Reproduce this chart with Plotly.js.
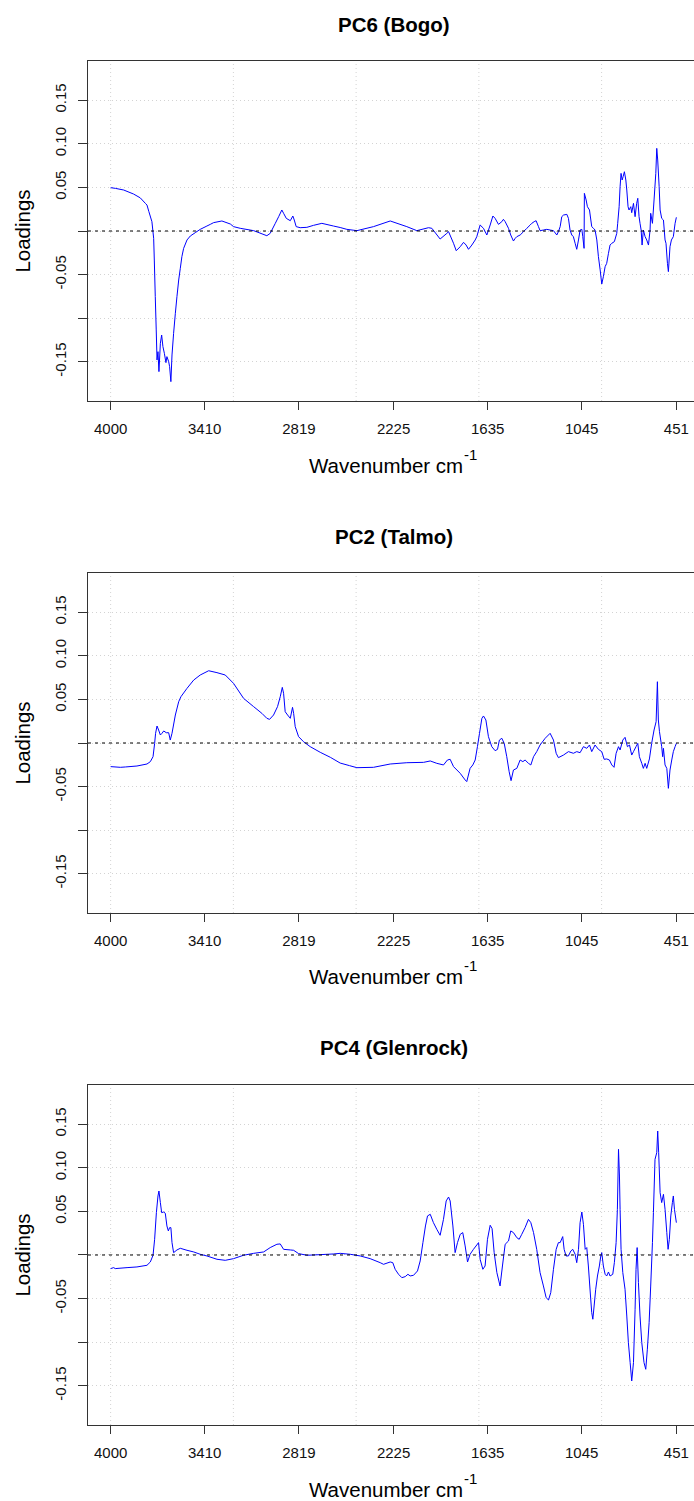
<!DOCTYPE html>
<html>
<head>
<meta charset="utf-8">
<script src="https://cdn.plot.ly/plotly-3.0.1.min.js"></script>
<style>
html, body { margin: 0; padding: 0; background: #ffffff; overflow: hidden; }
#chart { width: 700px; height: 1501px; }
</style>
</head>
<body>
<div id="chart"></div>
<script>
// ---------- data ----------
const panelTitles = ["PC6 (Bogo)", "PC2 (Talmo)", "PC4 (Glenrock)"];
const xTitleMain = "Wavenumber cm";
const xTitleSup = "-1";
const yTitle = "Loadings";

const xTickVals = [4000, 3410, 2819, 2225, 1635, 1045, 451];
const xTickText = ["4000", "3410", "2819", "2225", "1635", "1045", "451"];
const xGridVals = [4000, 3230, 2460, 1690, 920];
const yTickVals = [-0.15, -0.05, 0.05, 0.10, 0.15];
const yTickText = ["-0.15", "-0.05", "0.05", "0.10", "0.15"];
const yUnlabelledTicks = [-0.10, 0];

const pc6Wave = [4000,3970,3918,3856,3814,3782,3772,3760,3741,3730,3726,3720,3714,3709,3703,3697,3688,3680,3672,3663,3653,3647,3636,3630,3622,3615,3605,3594,3584,3573,3563,3553,3542,3521,3500,3469,3438,3396,3375,3354,3302,3249,3229,3187,3103,3020,2999,2967,2946,2926,2915,2898,2873,2857,2848,2836,2811,2769,2727,2675,2602,2560,2518,2455,2351,2246,2142,2079,2006,1985,1933,1891,1880,1849,1832,1807,1786,1770,1755,1734,1713,1703,1682,1661,1640,1619,1602,1588,1567,1546,1536,1525,1504,1490,1473,1462,1452,1431,1410,1389,1368,1358,1343,1331,1316,1306,1285,1264,1243,1222,1201,1191,1180,1170,1159,1138,1128,1118,1107,1097,1086,1076,1065,1055,1044,1038,1030,1028,1017,1009,996,982,971,961,950,940,929,919,909,898,888,877,867,856,840,825,819,810,804,798,791,785,777,768,762,754,748,737,731,720,710,700,693,685,679,672,666,658,647,637,626,616,612,601,591,580,574,568,559,553,543,532,522,516,507,501,491,482,470,459,451];
const pc6Load = [0.0497,0.0489,0.0470,0.0424,0.0380,0.0317,0.0298,0.0222,0.0107,-0.0084,-0.0333,-0.0753,-0.1135,-0.1479,-0.1384,-0.1613,-0.1288,-0.1193,-0.1326,-0.1403,-0.1510,-0.1441,-0.1498,-0.1556,-0.1728,-0.1422,-0.1174,-0.0944,-0.0753,-0.0562,-0.0428,-0.0294,-0.0199,-0.0103,-0.0057,-0.0019,0.0019,0.0057,0.0076,0.0096,0.0115,0.0080,0.0050,0.0031,0.0004,-0.0054,-0.0027,0.0088,0.0164,0.0241,0.0203,0.0145,0.0118,0.0172,0.0126,0.0050,0.0038,0.0042,0.0065,0.0088,0.0057,0.0040,0.0019,0.0004,0.0050,0.0115,0.0050,0.0004,0.0038,0.0031,-0.0092,-0.0027,-0.0008,-0.0141,-0.0226,-0.0180,-0.0130,-0.0161,-0.0210,-0.0161,-0.0103,-0.0065,0.0069,0.0031,-0.0046,0.0069,0.0172,0.0145,0.0076,0.0107,0.0134,0.0107,0.0031,-0.0046,-0.0115,-0.0084,-0.0065,-0.0046,-0.0008,0.0031,0.0069,0.0088,0.0107,0.0118,0.0050,0.0004,0.0011,0.0019,0.0011,0.0004,-0.0046,-0.0008,0.0050,0.0164,0.0183,0.0191,0.0145,0.0011,-0.0046,-0.0065,-0.0141,-0.0210,-0.0103,0.0011,0.0019,-0.0065,-0.0199,0.0432,0.0356,0.0279,0.0241,0.0050,0.0031,0.0011,-0.0103,-0.0294,-0.0447,-0.0608,-0.0524,-0.0409,-0.0371,-0.0256,-0.0161,-0.0141,-0.0122,-0.0027,0.0088,0.0279,0.0508,0.0661,0.0585,0.0623,0.0680,0.0585,0.0470,0.0279,0.0241,0.0279,0.0210,0.0317,0.0164,0.0317,0.0375,0.0164,0.0088,0.0011,-0.0161,0.0011,-0.0065,-0.0103,-0.0161,0.0011,0.0203,0.0088,0.0356,0.0661,0.0948,0.0814,0.0508,0.0241,0.0145,0.0126,-0.0103,-0.0141,-0.0371,-0.0466,-0.0180,-0.0103,-0.0065,0.0088,0.0157];

const pc2Wave = [4000,3939,3908,3835,3772,3751,3734,3724,3718,3709,3699,3688,3678,3667,3651,3636,3626,3615,3594,3573,3559,3521,3479,3438,3385,3333,3281,3229,3166,3103,3051,3020,3003,2978,2953,2936,2923,2915,2905,2890,2873,2859,2852,2842,2821,2790,2748,2685,2622,2560,2501,2455,2351,2246,2142,2037,1995,1954,1912,1887,1870,1849,1807,1776,1766,1745,1728,1713,1699,1686,1671,1661,1646,1630,1609,1588,1573,1561,1546,1531,1515,1500,1488,1473,1452,1431,1414,1400,1379,1364,1347,1327,1306,1274,1243,1222,1205,1191,1159,1128,1097,1076,1055,1034,1013,996,982,961,940,919,904,888,871,856,842,829,814,804,787,773,758,745,731,720,704,693,683,668,658,647,637,620,606,591,578,570,564,557,543,537,532,522,511,501,491,480,470,459,451];
const pc2Load = [-0.0271,-0.0279,-0.0275,-0.0264,-0.0241,-0.0214,-0.0157,-0.0004,0.0111,0.0195,0.0149,0.0092,0.0111,0.0138,0.0118,0.0118,0.0034,0.0111,0.0321,0.0474,0.0531,0.0627,0.0722,0.0780,0.0829,0.0807,0.0780,0.0684,0.0512,0.0417,0.0340,0.0283,0.0271,0.0321,0.0417,0.0531,0.0638,0.0570,0.0359,0.0321,0.0283,0.0409,0.0340,0.0187,0.0073,0.0015,-0.0042,-0.0107,-0.0164,-0.0230,-0.0260,-0.0283,-0.0279,-0.0241,-0.0226,-0.0222,-0.0206,-0.0233,-0.0252,-0.0195,-0.0187,-0.0271,-0.0348,-0.0424,-0.0443,-0.0291,-0.0252,-0.0195,-0.0042,0.0111,0.0283,0.0310,0.0264,0.0073,-0.0042,-0.0088,-0.0073,0.0034,0.0054,-0.0004,-0.0157,-0.0329,-0.0432,-0.0310,-0.0291,-0.0195,-0.0214,-0.0195,-0.0233,-0.0252,-0.0157,-0.0099,-0.0023,0.0054,0.0111,0.0034,-0.0118,-0.0168,-0.0138,-0.0099,-0.0118,-0.0099,-0.0111,-0.0042,-0.0061,-0.0023,-0.0099,-0.0023,-0.0073,-0.0099,-0.0187,-0.0183,-0.0195,-0.0252,-0.0279,-0.0118,-0.0042,-0.0080,0.0034,0.0065,-0.0042,-0.0023,-0.0138,-0.0099,-0.0042,-0.0004,-0.0157,-0.0233,-0.0291,-0.0233,-0.0291,-0.0183,-0.0004,0.0149,0.0245,0.0703,0.0264,0.0130,-0.0042,-0.0157,-0.0061,-0.0252,-0.0291,-0.0520,-0.0310,-0.0195,-0.0099,-0.0042,-0.0004];

const pc4Wave = [4000,3981,3971,3897,3835,3772,3751,3734,3724,3713,3703,3697,3688,3680,3667,3657,3647,3638,3630,3622,3615,3605,3584,3563,3521,3479,3438,3396,3333,3281,3229,3166,3103,3040,2999,2957,2936,2915,2873,2852,2821,2769,2685,2602,2560,2497,2434,2372,2309,2288,2246,2230,2215,2194,2173,2152,2135,2121,2100,2075,2058,2041,2025,2012,1995,1975,1954,1933,1912,1895,1880,1870,1853,1839,1824,1807,1791,1776,1761,1745,1724,1703,1692,1682,1665,1651,1636,1619,1607,1594,1577,1557,1542,1525,1504,1490,1473,1452,1437,1421,1400,1379,1364,1347,1327,1306,1285,1268,1253,1239,1222,1205,1191,1180,1164,1155,1143,1128,1113,1101,1086,1076,1065,1055,1044,1034,1023,1013,1003,992,982,975,967,957,946,934,925,919,909,898,888,877,867,850,840,829,821,814,808,804,798,787,773,762,752,741,731,720,710,704,697,689,679,668,654,643,633,622,612,601,595,585,574,568,562,553,543,532,522,511,503,495,486,476,470,463,451];
const pc4Load = [-0.0156,-0.0145,-0.0156,-0.0145,-0.0137,-0.0118,-0.0080,-0.0003,0.0180,0.0486,0.0677,0.0734,0.0601,0.0486,0.0493,0.0478,0.0333,0.0276,0.0314,0.0314,0.0142,0.0027,0.0058,0.0077,0.0054,0.0035,0.0008,-0.0011,-0.0049,-0.0061,-0.0042,-0.0003,0.0019,0.0035,0.0085,0.0123,0.0127,0.0065,0.0058,0.0054,0.0016,-0.0003,0.0004,0.0012,0.0019,0.0008,-0.0011,-0.0042,-0.0088,-0.0107,-0.0080,-0.0088,-0.0164,-0.0221,-0.0260,-0.0248,-0.0221,-0.0240,-0.0233,-0.0183,-0.0068,0.0142,0.0333,0.0448,0.0467,0.0371,0.0295,0.0226,0.0409,0.0620,0.0665,0.0620,0.0333,0.0027,0.0142,0.0237,0.0257,0.0104,-0.0080,0.0008,0.0065,0.0115,0.0142,-0.0049,-0.0164,-0.0126,0.0180,0.0341,0.0302,0.0027,-0.0202,-0.0355,-0.0126,0.0123,0.0161,0.0276,0.0257,0.0199,0.0180,0.0237,0.0314,0.0409,0.0371,0.0257,0.0065,-0.0202,-0.0355,-0.0489,-0.0516,-0.0432,-0.0164,0.0065,0.0142,0.0142,0.0211,0.0065,-0.0011,-0.0011,0.0046,0.0065,0.0008,-0.0088,0.0065,0.0371,0.0493,0.0352,0.0065,0.0085,-0.0126,-0.0413,-0.0661,-0.0737,-0.0585,-0.0393,-0.0241,-0.0126,-0.0011,0.0027,-0.0126,-0.0221,-0.0241,-0.0195,-0.0241,-0.0221,-0.0088,0.0142,0.0524,0.1212,0.0906,0.0524,0.0065,-0.0202,-0.0393,-0.0700,-0.1005,-0.1234,-0.1445,-0.1234,-0.0623,-0.0164,0.0085,-0.0317,-0.0700,-0.1005,-0.1234,-0.1311,-0.1081,-0.0776,-0.0356,0.0142,0.0486,0.1097,0.1174,0.1422,0.1174,0.0715,0.0601,0.0696,0.0524,0.0257,0.0065,0.0180,0.0448,0.0601,0.0677,0.0524,0.0371];

// ---------- figure ----------
const panels = [
  {title: panelTitles[0], x: pc6Wave, y: pc6Load},
  {title: panelTitles[1], x: pc2Wave, y: pc2Load},
  {title: panelTitles[2], x: pc4Wave, y: pc4Load}
];
const domains = [[0.75073, 1], [0.37537, 0.62463], [0, 0.24927]];
const FONT = "Liberation Sans, Arial, sans-serif";
const frame = "#333333";
const gridStyle = {color: "#d3d3d3", dash: "1px,3px"};

const data = [];
const layout = {
  width: 700, height: 1501,
  margin: {l: 88, r: 1, t: 61, b: 76, pad: 0},
  paper_bgcolor: "#ffffff", plot_bgcolor: "#ffffff",
  showlegend: false,
  font: {family: FONT, color: "#000000"},
  shapes: [], annotations: []
};

panels.forEach((p, i) => {
  const n = i === 0 ? "" : String(i + 1);
  const xa = "x" + n, ya = "y" + n;
  data.push({
    type: "scatter", mode: "lines", x: p.x, y: p.y,
    xaxis: xa, yaxis: ya,
    line: {color: "#0000ff", width: 1, simplify: false},
    hoverinfo: "skip"
  });
  layout["xaxis" + n] = {
    domain: [0, 1], anchor: ya, range: [4142, 309],
    tickmode: "array", tickvals: xTickVals, ticktext: xTickText,
    ticks: "outside", ticklen: 8, tickwidth: 1, tickcolor: frame,
    showline: true, linecolor: frame, linewidth: 1, mirror: true,
    showgrid: false, zeroline: false, ticklabelstandoff: 6,
    tickfont: {family: FONT, size: 15, color: "#111111"},
    automargin: false
  };
  layout["yaxis" + n] = {
    domain: domains[i], anchor: xa, range: [-0.195, 0.195],
    tickmode: "array", tickvals: yTickVals, ticktext: yTickText,
    tickangle: -90, ticks: "outside", ticklen: 9, tickwidth: 1, tickcolor: frame,
    showline: true, linecolor: frame, linewidth: 1, mirror: true,
    showgrid: true, gridcolor: gridStyle.color, gridwidth: 1, griddash: gridStyle.dash,
    minor: {
      tickmode: "array", tickvals: yUnlabelledTicks,
      ticks: "outside", ticklen: 9, tickwidth: 1, tickcolor: frame,
      showgrid: true, gridcolor: gridStyle.color, gridwidth: 1, griddash: gridStyle.dash
    },
    zeroline: false, ticklabelstandoff: 6,
    tickfont: {family: FONT, size: 15, color: "#111111"},
    title: {text: yTitle, standoff: 15, font: {family: FONT, size: 20.5, color: "#000000"}},
    automargin: false
  };
  xGridVals.forEach(g => {
    layout.shapes.push({
      type: "line", xref: xa, yref: ya + " domain", x0: g, x1: g, y0: 0, y1: 1,
      line: {color: gridStyle.color, width: 1, dash: gridStyle.dash}, layer: "below"
    });
  });
  layout.shapes.push({
    type: "line", xref: xa + " domain", yref: ya, x0: 0, x1: 1, y0: 0, y1: 0,
    line: {color: "#000000", width: 1, dash: "3px,4px"}, layer: "above"
  });
  // panel title (bold)
  layout.annotations.push({
    text: p.title, xref: "paper", yref: "paper",
    x: 0.5, y: domains[i][1], xanchor: "center", yanchor: "middle", yshift: 37,
    showarrow: false, font: {family: FONT, size: 20.5, weight: "bold", color: "#000000"}
  });
  // x-axis title "Wavenumber cm" with raised "-1"
  layout.annotations.push({
    text: xTitleMain, xref: "paper", yref: "paper",
    x: 0.5, y: domains[i][0], xanchor: "right", yanchor: "middle", xshift: 71, yshift: -64,
    showarrow: false, font: {family: FONT, size: 20.5, color: "#000000"}
  });
  layout.annotations.push({
    text: xTitleSup, xref: "paper", yref: "paper",
    x: 0.5, y: domains[i][0], xanchor: "left", yanchor: "middle", xshift: 68, yshift: -53,
    showarrow: false, font: {family: FONT, size: 15, color: "#000000"}
  });
});

Plotly.newPlot("chart", data, layout, {staticPlot: true, displayModeBar: false});
</script>
</body>
</html>
